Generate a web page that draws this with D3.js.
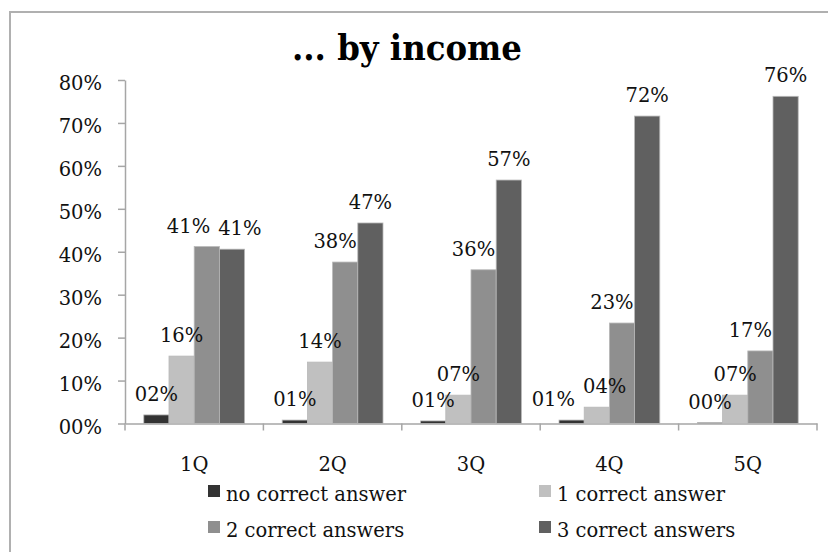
<!DOCTYPE html>
<html>
<head>
<meta charset="utf-8">
<script src="https://cdn.jsdelivr.net/npm/d3@7"></script>
<style>
  body { margin: 0; background: #fff; }
  text { font-family: "DejaVu Serif", serif; fill: #111; }
</style>
</head>
<body>
<script>
// chart data (percent)
var categories = ["1Q", "2Q", "3Q", "4Q", "5Q"];
var seriesNames = ["no correct answer", "1 correct answer", "2 correct answers", "3 correct answers"];
var noCorrect = [2.0, 0.8, 0.6, 0.8, 0.2];
var oneCorrect = [15.7, 14.3, 6.6, 3.8, 6.6];
var twoCorrect = [41.2, 37.6, 35.8, 23.4, 16.9];
var threeCorrect = [40.6, 46.7, 56.7, 71.6, 76.2];
var yTicks = [0, 10, 20, 30, 40, 50, 60, 70, 80];
var colors = ["#333333", "#c0c0c0", "#8f8f8f", "#606060"];

var seriesValues = [noCorrect, oneCorrect, twoCorrect, threeCorrect];
var w = 828;
var h = 552;

var svg = d3.select("body")
  .append("svg")
  .attr("width", w)
  .attr("height", h);

// outer chart frame (runs off the right / bottom of the picture)
svg.append("rect")
  .attr("x", 10).attr("y", 12)
  .attr("width", 840).attr("height", 560)
  .attr("fill", "none")
  .attr("stroke", "#b0b0b0")
  .attr("stroke-width", 2);

svg.append("text")
  .attr("x", 407)
  .attr("y", 60)
  .attr("text-anchor", "middle")
  .style("font-family", "'DejaVu Serif Condensed', 'DejaVu Serif', serif")
  .style("font-size", "36px")
  .style("font-weight", "bold")
  .style("fill", "#000")
  .text("... by income");

var scaleX = d3.scaleBand()
  .domain(categories)
  .range([125, 817])
  .paddingInner(0)
  .paddingOuter(0);

var groupPad = (scaleX.bandwidth() - 4 * 25.2) / 2;
var scaleX1 = d3.scaleBand()
  .domain(d3.range(seriesNames.length))
  .range([groupPad, scaleX.bandwidth() - groupPad]);

var scaleY = d3.scaleLinear()
  .domain([0, 80])
  .range([423.5, 80]);

var fmt = function(v) { return d3.format("02d")(Math.round(v)) + "%"; };

// y axis
var yAxis = d3.axisLeft(scaleY)
  .tickValues(yTicks)
  .tickSize(7)
  .tickSizeOuter(0)
  .tickPadding(16)
  .tickFormat(fmt);

var gy = svg.append("g")
  .attr("transform", "translate(125,0)")
  .call(yAxis);
gy.select(".domain").attr("stroke", "#a6a6a6").attr("stroke-width", 1.5);
gy.selectAll(".tick line").attr("stroke", "#a6a6a6").attr("stroke-width", 1.5);
gy.selectAll(".tick text")
  .attr("dy", "0.49em")
  .style("font-family", "DejaVu Serif")
  .style("font-size", "19.5px")
  .attr("fill", "#111");

// x axis: labels at band centres, ticks at band edges
var xAxis = d3.axisBottom(scaleX)
  .tickSize(0)
  .tickSizeOuter(0)
  .tickPadding(0);
var gx = svg.append("g")
  .attr("transform", "translate(0," + scaleY(0) + ")")
  .call(xAxis);
gx.select(".domain").attr("stroke", "#a6a6a6").attr("stroke-width", 1.5);
gx.selectAll(".tick text")
  .attr("y", 47.5)
  .attr("dy", 0)
  .style("font-family", "DejaVu Serif")
  .style("font-size", "19.5px")
  .attr("fill", "#111");

var edges = categories.map(function(c) { return scaleX(c); }).concat([scaleX.range()[1]]);
gx.selectAll("line.edge")
  .data(edges)
  .enter()
  .append("line")
  .attr("class", "edge")
  .attr("x1", function(d) { return d; })
  .attr("x2", function(d) { return d; })
  .attr("y1", 0)
  .attr("y2", 7)
  .attr("stroke", "#a6a6a6")
  .attr("stroke-width", 1.5);

// bars
var bars = [];
categories.forEach(function(c, ci) {
  seriesValues.forEach(function(vals, si) {
    bars.push({ cat: c, ci: ci, si: si, v: vals[ci] });
  });
});

svg.selectAll("rect.bar")
  .data(bars)
  .enter()
  .append("rect")
  .attr("class", "bar")
  .attr("x", function(d) { return scaleX(d.cat) + scaleX1(d.si); })
  .attr("y", function(d) { return scaleY(d.v); })
  .attr("width", scaleX1.bandwidth())
  .attr("height", function(d) { return scaleY(0) - scaleY(d.v); })
  .attr("fill", function(d) { return colors[d.si]; })
  .attr("stroke", "#b8b8b8")
  .attr("stroke-width", 0.8);

// value labels
var labels = svg.selectAll("text.val")
  .data(bars)
  .enter()
  .append("text")
  .attr("class", "val")
  .attr("text-anchor", "middle")
  .style("font-size", "19.5px")
  .text(function(d) { return fmt(d.v); })
  .attr("y", function(d) { return scaleY(d.v) - 14; })
  .each(function(d) {
    d.cx = scaleX(d.cat) + scaleX1(d.si) + scaleX1.bandwidth() / 2;
    d.lw = this.getComputedTextLength();
    d.base = scaleY(d.v) - 14;
  });

// keep labels off the darkest (last series) bar, then push apart clashing labels
categories.forEach(function(c) {
  var g = bars.filter(function(d) { return d.cat === c; });
  var last = g[g.length - 1];
  var lastLeft = scaleX(c) + scaleX1(last.si);
  var lastTop = scaleY(last.v);
  var d = g[g.length - 2];
  if (lastTop < d.base + 3 && d.cx + d.lw / 2 > lastLeft) {
    d.cx = lastLeft - 1 - d.lw / 2;
  }
  for (var i = 0; i < g.length - 1; i++) {
    var a = g[i], b = g[i + 1];
    if (Math.abs(a.base - b.base) < 16) {
      var need = (a.lw + b.lw) / 2 + 8 - (b.cx - a.cx);
      if (need > 0) {
        a.cx -= need * 0.7;
        b.cx += need * 0.3;
      }
    }
  }
});
labels.attr("x", function(d) { return d.cx; });

// legend, two columns
var legendX = [208, 539];
var legendY = [485, 521];
var legend = svg.selectAll("g.legend")
  .data(seriesNames)
  .enter()
  .append("g")
  .attr("class", "legend")
  .attr("transform", function(d, i) {
    return "translate(" + legendX[i % 2] + "," + legendY[Math.floor(i / 2)] + ")";
  });
legend.append("rect")
  .attr("width", 12)
  .attr("height", 12)
  .attr("fill", function(d, i) { return colors[i]; });
legend.append("text")
  .attr("x", 18)
  .attr("y", 15.5)
  .style("font-size", "19.5px")
  .text(function(d) { return d; });
</script>
</body>
</html>
